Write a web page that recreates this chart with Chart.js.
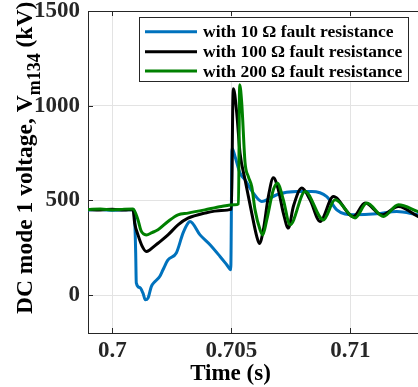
<!DOCTYPE html>
<html>
<head>
<meta charset="utf-8">
<script src="https://cdn.jsdelivr.net/npm/chart.js@4/dist/chart.umd.min.js"></script>
<style>
  html, body { margin: 0; padding: 0; background: #fff; overflow: hidden; }
  #wrap { width: 418px; height: 387px; position: relative; }
</style>
</head>
<body>
<div id="wrap"><canvas id="c" width="418" height="387"></canvas></div>
<script>
// ---- data ----
const seriesNames = ['with 10 \u03A9 fault resistance', 'with 100 \u03A9 fault resistance', 'with 200 \u03A9 fault resistance'];
const xTicks = [0.7, 0.705, 0.71];
const xTickLabels = ['0.7', '0.705', '0.71'];
const yTicks = [0, 500, 1000, 1500];
const yTickLabels = ['0', '500', '1000', '1500'];

const t10 = [0.69898, 0.6995, 0.7000, 0.7005, 0.70087, 0.700941, 0.700983, 0.701008, 0.701151, 0.70129, 0.701387, 0.7015, 0.701639, 0.701794, 0.701992, 0.70213, 0.70234, 0.702689, 0.70297, 0.70318, 0.703265, 0.703685, 0.704105, 0.704525, 0.704807, 0.704975, 0.70503, 0.705155, 0.705366, 0.705576, 0.705924, 0.706277, 0.70663, 0.706908, 0.707748, 0.708378, 0.709008, 0.709429, 0.709777, 0.710126, 0.711109, 0.71195, 0.71284];
const v10 = [450, 452, 448, 451, 452, 397, 223, 65, 40, 10, -25, -16, 45, 72, 98, 134, 186, 222, 327, 380, 389, 318, 266, 204, 160, 134, 775, 732, 644, 609, 538, 494, 512, 530, 547, 547, 520, 450, 428, 424, 429, 441, 424];

const t100 = [0.69898, 0.6995, 0.7000, 0.7005, 0.70087, 0.700941, 0.70108, 0.701248, 0.701429, 0.701584, 0.70192, 0.70234, 0.70276, 0.70318, 0.703882, 0.70458, 0.705008, 0.70506, 0.705088, 0.705227, 0.705366, 0.705576, 0.705857, 0.706067, 0.706176, 0.706345, 0.706555, 0.706765, 0.706975, 0.707185, 0.707395, 0.707605, 0.707958, 0.708307, 0.708727, 0.709286, 0.710126, 0.710618, 0.711319, 0.712017, 0.71284];
const v100 = [452, 450, 453, 449, 452, 380, 318, 260, 230, 240, 274, 318, 371, 406, 433, 447, 454, 1000, 1090, 961, 750, 609, 433, 310, 272, 345, 520, 620, 556, 433, 354, 468, 565, 503, 389, 520, 415, 486, 424, 468, 415];

const t200 = [0.69898, 0.6995, 0.7000, 0.7005, 0.70087, 0.70108, 0.701206, 0.701429, 0.701668, 0.70192, 0.70234, 0.70276, 0.70318, 0.703882, 0.70458, 0.705143, 0.7053, 0.70535, 0.705437, 0.705576, 0.705714, 0.705857, 0.705996, 0.706206, 0.706319, 0.706487, 0.706765, 0.706933, 0.707185, 0.707466, 0.708097, 0.708866, 0.709357, 0.710197, 0.710689, 0.711387, 0.712017, 0.71284];
const v200 = [452, 455, 450, 454, 455, 397, 340, 318, 330, 345, 389, 424, 433, 450, 468, 477, 482, 1110, 1014, 700, 626, 573, 450, 345, 318, 397, 556, 591, 503, 371, 547, 397, 503, 407, 486, 415, 477, 441];

const lineColors = ['#0072BD', '#000000', '#008000'];

// ---- chart ----
const FONT = "'Liberation Serif', 'Times New Roman', serif";
const AXIS_COLOR = '#262626';

function pts(ts, vs) { return ts.map((t, i) => ({ x: t, y: vs[i] })); }

const seriesT = [t10, t100, t200];
const seriesV = [v10, v100, v200];

const datasets = seriesNames.map((name, i) => ({
  label: name,
  data: pts(seriesT[i], seriesV[i]),
  borderColor: lineColors[i],
  backgroundColor: lineColors[i],
  borderWidth: 3,
  pointRadius: 0,
  cubicInterpolationMode: 'monotone',
  order: 3 - i,
  borderJoinStyle: 'round',
  borderCapStyle: 'round'
}));

const decorPlugin = {
  id: 'decor',
  afterDraw(chart) {
    const ctx = chart.ctx;
    const ca = chart.chartArea;
    const xs = chart.scales.x, ys = chart.scales.y;
    ctx.save();
    // top border
    ctx.strokeStyle = AXIS_COLOR;
    ctx.lineWidth = 1;
    ctx.beginPath();
    ctx.moveTo(ca.left, ca.top + 0.5);
    ctx.lineTo(ca.right, ca.top + 0.5);
    ctx.stroke();
    // inward ticks
    ctx.beginPath();
    xTicks.forEach(v => {
      const px = Math.round(xs.getPixelForValue(v)) + 0.5;
      ctx.moveTo(px, ca.bottom); ctx.lineTo(px, ca.bottom - 5);
      ctx.moveTo(px, ca.top); ctx.lineTo(px, ca.top + 5);
    });
    yTicks.forEach(v => {
      const py = Math.round(ys.getPixelForValue(v)) + 0.5;
      ctx.moveTo(ca.left, py); ctx.lineTo(ca.left + 5, py);
    });
    ctx.stroke();

    // legend
    const lx = 139.5, ly = 17.5, lw = 269, lh = 64;
    ctx.fillStyle = '#ffffff';
    ctx.fillRect(lx, ly, lw, lh);
    ctx.strokeStyle = AXIS_COLOR;
    ctx.lineWidth = 1;
    ctx.strokeRect(lx, ly, lw, lh);
    const rows = [31.7, 51.7, 71];
    ctx.font = "bold 17.5px " + FONT;
    ctx.textBaseline = 'middle';
    ctx.textAlign = 'left';
    chart.data.datasets.forEach((ds, i) => {
      ctx.strokeStyle = ds.borderColor;
      ctx.lineWidth = 3;
      ctx.beginPath();
      ctx.moveTo(145, rows[i]);
      ctx.lineTo(197, rows[i]);
      ctx.stroke();
      ctx.fillStyle = '#000000';
      ctx.fillText(ds.label, 203, rows[i] + 1);
    });

    // x title
    ctx.fillStyle = '#000000';
    ctx.font = "bold 23px " + FONT;
    ctx.textAlign = 'center';
    ctx.textBaseline = 'alphabetic';
    ctx.fillText('Time (s)', 230.5, 380);

    // y title with subscript
    ctx.save();
    ctx.translate(32, 314);
    ctx.rotate(-Math.PI / 2);
    ctx.textAlign = 'left';
    ctx.textBaseline = 'alphabetic';
    let x = 0;
    const mainFont = "bold 23.5px " + FONT;
    const subFont = "bold 18px " + FONT;
    ctx.font = mainFont;
    const p1 = 'DC mode 1 voltage, V';
    ctx.fillText(p1, x, 0); x += ctx.measureText(p1).width;
    ctx.font = subFont;
    const p2 = 'm134';
    ctx.fillText(p2, x, 7.5); x += ctx.measureText(p2).width;
    ctx.font = mainFont;
    ctx.fillText(' (kV)', x, 0);
    ctx.restore();

    ctx.restore();
  }
};

function zeroPad(scale) {
  scale.paddingTop = 0; scale.paddingBottom = 0;
  scale.paddingLeft = 0; scale.paddingRight = 0;
}

new Chart(document.getElementById('c'), {
  type: 'line',
  data: { datasets },
  options: {
    responsive: false,
    animation: false,
    parsing: true,
    layout: { padding: { top: 11, right: 0, bottom: 0, left: 0 } },
    plugins: { legend: { display: false }, tooltip: { enabled: false } },
    scales: {
      x: {
        type: 'linear',
        min: 0.69898,
        max: 0.71284,
        afterBuildTicks(scale) { scale.ticks = xTicks.map(v => ({ value: v })); },
        afterFit(scale) { scale.height = 54; zeroPad(scale); },
        grid: { color: '#e3e3e3', lineWidth: 1, drawTicks: false },
        border: { display: true, color: AXIS_COLOR, width: 1 },
        ticks: {
          autoSkip: false,
          maxRotation: 0,
          padding: 4,
          color: AXIS_COLOR,
          font: { family: FONT, size: 23, weight: 'bold' },
          callback(value, index) { return xTickLabels[index]; }
        }
      },
      y: {
        type: 'linear',
        min: -200,
        max: 1500,
        afterBuildTicks(scale) { scale.ticks = yTicks.map(v => ({ value: v })); },
        afterFit(scale) { scale.width = 88; zeroPad(scale); },
        grid: { color: '#e3e3e3', lineWidth: 1, drawTicks: false },
        border: { display: true, color: AXIS_COLOR, width: 1 },
        ticks: {
          autoSkip: false,
          padding: 8,
          color: AXIS_COLOR,
          font: { family: FONT, size: 23, weight: 'bold' },
          callback(value, index) { return yTickLabels[index]; }
        }
      }
    }
  },
  plugins: [decorPlugin]
});
</script>
</body>
</html>
